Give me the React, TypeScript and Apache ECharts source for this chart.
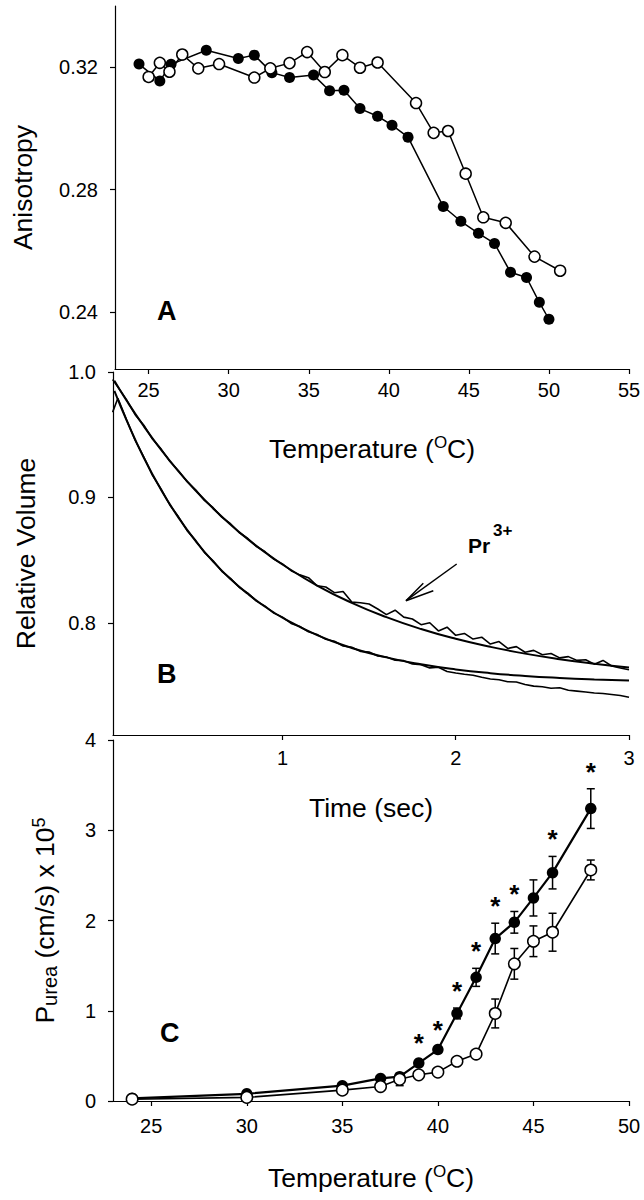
import React, { useEffect, useRef } from "react";
import * as echarts from "echarts";

const FONT = "'Liberation Sans', Arial, Helvetica, sans-serif";

// ---------- Panel A: anisotropy vs temperature ----------
const aFilledTemp = [24.4, 25.7, 26.4, 28.6, 30.6, 31.6, 32.7, 33.8, 35.3, 36.3, 37.2, 38.2, 39.3, 40.2, 41.2, 43.4, 44.5, 45.6, 46.6, 47.6, 48.6, 49.4, 50.0];
const aFilledAniso = [0.3209, 0.3154, 0.3208, 0.3254, 0.3227, 0.3238, 0.3181, 0.3165, 0.3173, 0.3122, 0.3124, 0.3064, 0.3039, 0.301, 0.2971, 0.2745, 0.2697, 0.2658, 0.2625, 0.2531, 0.2514, 0.2433, 0.2378];
const aOpenTemp = [25.0, 25.7, 26.3, 27.1, 28.1, 29.4, 31.6, 32.6, 33.8, 34.9, 36.0, 37.1, 38.2, 39.3, 41.7, 42.8, 43.7, 44.8, 45.9, 47.3, 49.1, 50.7];
const aOpenAniso = [0.3167, 0.3213, 0.3184, 0.324, 0.3195, 0.3209, 0.3165, 0.3195, 0.3212, 0.3248, 0.3183, 0.3238, 0.3197, 0.3214, 0.3082, 0.2985, 0.2991, 0.2852, 0.271, 0.2692, 0.2582, 0.2536];
const aTempTicks = [25, 30, 35, 40, 45, 50, 55];
const aAnisoTicks = [0.24, 0.28, 0.32];

// ---------- Panel B: relative volume vs time ----------
const bFitTime = [0.03, 0.1, 0.2, 0.3, 0.4, 0.5, 0.6, 0.7, 0.8, 0.9, 1.0, 1.2, 1.4, 1.6, 1.8, 2.0, 2.2, 2.4, 2.6, 2.8, 3.0];
const bFitUpper = [0.993, 0.9773, 0.9567, 0.9379, 0.9208, 0.9053, 0.8912, 0.8784, 0.8667, 0.8561, 0.8465, 0.8297, 0.8159, 0.8045, 0.795, 0.7872, 0.7808, 0.7754, 0.771, 0.7674, 0.7644];
const bFitLower = [0.9849, 0.9616, 0.9316, 0.9059, 0.8839, 0.865, 0.8488, 0.8349, 0.8231, 0.8128, 0.8041, 0.7902, 0.7799, 0.7724, 0.7669, 0.7628, 0.7598, 0.7576, 0.756, 0.7548, 0.7539];
const bDataTime = [0.02, 0.05, 0.1, 0.15, 0.2, 0.25, 0.3, 0.35, 0.4, 0.45, 0.5, 0.55, 0.6, 0.65, 0.7, 0.75, 0.8, 0.85, 0.9, 0.95, 1.0, 1.05, 1.1, 1.15, 1.2, 1.25, 1.3, 1.35, 1.4, 1.45, 1.5, 1.55, 1.6, 1.65, 1.7, 1.75, 1.8, 1.85, 1.9, 1.95, 2.0, 2.05, 2.1, 2.15, 2.2, 2.25, 2.3, 2.35, 2.4, 2.45, 2.5, 2.55, 2.6, 2.65, 2.7, 2.75, 2.8, 2.85, 2.9, 2.95, 3.0];
const bDataUpper = [0.994, 0.988, 0.978, 0.966, 0.9575, 0.9465, 0.9385, 0.9288, 0.9212, 0.9125, 0.9058, 0.8976, 0.8918, 0.8842, 0.879, 0.872, 0.8672, 0.8608, 0.8566, 0.8508, 0.847, 0.8415, 0.8382, 0.836, 0.8295, 0.8285, 0.824, 0.825, 0.8165, 0.816, 0.815, 0.811, 0.8065, 0.81, 0.8045, 0.803, 0.7985, 0.8, 0.7935, 0.7965, 0.79, 0.7915, 0.787, 0.7885, 0.783, 0.785, 0.7795, 0.781, 0.7765, 0.778, 0.7745, 0.7755, 0.772, 0.773, 0.77, 0.7705, 0.767, 0.77, 0.7655, 0.764, 0.7625];
const bDataLower = [0.968, 0.979, 0.962, 0.9455, 0.9322, 0.9175, 0.9065, 0.894, 0.8845, 0.8735, 0.8655, 0.856, 0.8495, 0.841, 0.8355, 0.8283, 0.8237, 0.8173, 0.8133, 0.8077, 0.8045, 0.7995, 0.797, 0.7928, 0.7907, 0.7868, 0.7853, 0.7815, 0.7805, 0.7772, 0.7767, 0.7735, 0.7727, 0.7702, 0.7698, 0.7672, 0.7665, 0.764, 0.7645, 0.7612, 0.76, 0.759, 0.7582, 0.7565, 0.7552, 0.7545, 0.753, 0.7528, 0.7508, 0.7495, 0.749, 0.7478, 0.7482, 0.7462, 0.7455, 0.7448, 0.744, 0.7436, 0.7428, 0.742, 0.7406];
const bTimeTicks = [1, 2, 3];
const bVolumeTicks = [0.8, 0.9, 1.0];

// ---------- Panel C: urea permeability vs temperature ----------
const cTemp = [24, 30, 35, 37, 38, 39, 40, 41, 42, 43, 44, 45, 46, 48];
const cFilled = [0.03, 0.08, 0.17, 0.25, 0.27, 0.42, 0.57, 0.97, 1.37, 1.8, 1.98, 2.25, 2.53, 3.24];
const cFilledErr = [0.01, 0.02, 0.02, 0.03, 0.03, 0.03, 0.03, 0.06, 0.1, 0.17, 0.12, 0.2, 0.18, 0.22];
const cOpen = [0.02, 0.04, 0.12, 0.16, 0.24, 0.29, 0.32, 0.44, 0.52, 0.97, 1.52, 1.77, 1.87, 2.56];
const cOpenErr = [0.01, 0.01, 0.02, 0.02, 0.07, 0.03, 0.03, 0.03, 0.04, 0.16, 0.17, 0.17, 0.21, 0.11];
const cSignificant = [0, 0, 0, 0, 0, 1, 1, 1, 1, 1, 1, 0, 1, 1];
const cTempTicks = [25, 30, 35, 40, 45, 50];

const zip = (xs: number[], ys: number[]) => xs.map((x, i) => [x, ys[i]]);

const BLACK = "#000";
const tickLabel = { fontSize: 20, color: BLACK, fontFamily: FONT };
const axisLine = { show: true, onZero: false, lineStyle: { color: BLACK, width: 1.2 } };
const tickStyle = { color: BLACK, width: 1.2 };

const tempName = "{t|Temperature (}{o|O}{t|C)}";
const tempNameStyle = {
  fontFamily: FONT,
  color: BLACK,
  rich: {
    t: { fontSize: 26.5, lineHeight: 30, fontFamily: FONT, color: BLACK },
    o: { fontSize: 17, lineHeight: 14, verticalAlign: "top", fontFamily: FONT, color: BLACK },
  },
};
const plainName = { fontSize: 26.5, lineHeight: 30, fontFamily: FONT, color: BLACK };

export default function App() {
  const ref = useRef<HTMLDivElement>(null);

  useEffect(() => {
    if (!ref.current) return;
    const chart = echarts.init(ref.current, null, { renderer: "svg" });

    const errorSeries = (vals: number[], errs: number[], sig: number[] | null, z: number) => ({
      type: "custom",
      xAxisIndex: 2,
      yAxisIndex: 2,
      z,
      silent: true,
      data: cTemp.map((t, i) => [t, vals[i], errs[i], sig ? sig[i] : 0]),
      encode: { x: 0, y: 1 },
      renderItem: (params: any, api: any) => {
        const x = api.value(0);
        const v = api.value(1);
        const e = api.value(2);
        const s = api.value(3);
        const top = api.coord([x, v + e]);
        const bot = api.coord([x, v - e]);
        const hw = 4;
        const style = { stroke: BLACK, lineWidth: 1.5 };
        const children: any[] = [
          { type: "line", shape: { x1: top[0], y1: top[1], x2: bot[0], y2: bot[1] }, style },
          { type: "line", shape: { x1: top[0] - hw, y1: top[1], x2: top[0] + hw, y2: top[1] }, style },
          { type: "line", shape: { x1: bot[0] - hw, y1: bot[1], x2: bot[0] + hw, y2: bot[1] }, style },
        ];
        if (s) {
          children.push({
            type: "text",
            x: top[0],
            y: top[1] - 4,
            style: { text: "*", fontSize: 26, fontWeight: "bold", fontFamily: FONT, fill: BLACK, align: "center", verticalAlign: "bottom" },
          });
        }
        return { type: "group", children };
      },
    });

    const option: any = {
      animation: false,
      backgroundColor: "#fff",
      grid: [
        { left: 113, right: 15, top: 6, height: 363 },
        { left: 113, right: 15, top: 372, height: 363 },
        { left: 113, right: 15, top: 740, height: 361 },
      ],
      xAxis: [
        {
          gridIndex: 0, type: "value", min: 22.9, max: 55,
          axisLine, splitLine: { show: false },
          axisTick: { show: true, length: 5, customValues: aTempTicks, lineStyle: tickStyle },
          axisLabel: { ...tickLabel, customValues: aTempTicks, margin: 11 },
          name: tempName, nameLocation: "middle", nameGap: 65, nameTextStyle: tempNameStyle,
        },
        {
          gridIndex: 1, type: "value", min: 0.022, max: 3,
          axisLine, splitLine: { show: false },
          axisTick: { show: true, length: 5, customValues: bTimeTicks, lineStyle: tickStyle },
          axisLabel: { ...tickLabel, customValues: bTimeTicks, margin: 13 },
          name: "Time (sec)", nameLocation: "middle", nameGap: 58, nameTextStyle: plainName,
        },
        {
          gridIndex: 2, type: "value", min: 23, max: 50,
          axisLine, splitLine: { show: false },
          axisTick: { show: true, length: 5, customValues: cTempTicks, lineStyle: tickStyle },
          axisLabel: { ...tickLabel, customValues: cTempTicks, margin: 15 },
          name: tempName, nameLocation: "middle", nameGap: 62, nameTextStyle: tempNameStyle,
        },
      ],
      yAxis: [
        {
          gridIndex: 0, type: "value", min: 0.2216, max: 0.3398,
          axisLine, splitLine: { show: false },
          axisTick: { show: true, length: 5, customValues: aAnisoTicks, lineStyle: tickStyle },
          axisLabel: { ...tickLabel, customValues: aAnisoTicks, margin: 17, formatter: (v: number) => v.toFixed(2) },
          name: "Anisotropy", nameLocation: "middle", nameRotate: 90, nameGap: 77, nameTextStyle: plainName,
        },
        {
          gridIndex: 1, type: "value", min: 0.7105, max: 1.0,
          axisLine, splitLine: { show: false },
          axisTick: { show: true, length: 5, customValues: bVolumeTicks, lineStyle: tickStyle },
          axisLabel: { ...tickLabel, customValues: bVolumeTicks, margin: 17, formatter: (v: number) => v.toFixed(1) },
          name: "Relative Volume", nameLocation: "middle", nameRotate: 90, nameGap: 72, nameTextStyle: plainName,
        },
        {
          gridIndex: 2, type: "value", min: 0, max: 4, interval: 1,
          axisLine, splitLine: { show: false },
          axisTick: { show: true, length: 5, lineStyle: tickStyle },
          axisLabel: { ...tickLabel, margin: 17 },
          name: "{p|P}{s|urea}{p| (cm/s) x 10}{u|5}", nameLocation: "middle", nameRotate: 90, nameGap: 53,
          nameTextStyle: {
            fontFamily: FONT, color: BLACK,
            rich: {
              p: { fontSize: 26.5, lineHeight: 30, fontFamily: FONT, color: BLACK },
              s: { fontSize: 20, lineHeight: 16, verticalAlign: "bottom", fontFamily: FONT, color: BLACK },
              u: { fontSize: 18, lineHeight: 14, verticalAlign: "top", fontFamily: FONT, color: BLACK },
            },
          },
        },
      ],
      series: [
        // Panel A
        {
          type: "line", xAxisIndex: 0, yAxisIndex: 0, data: zip(aFilledTemp, aFilledAniso),
          symbol: "circle", symbolSize: 11, itemStyle: { color: BLACK },
          lineStyle: { color: BLACK, width: 1.5 }, z: 3,
        },
        {
          type: "line", xAxisIndex: 0, yAxisIndex: 0, data: zip(aOpenTemp, aOpenAniso),
          symbol: "circle", symbolSize: 11, itemStyle: { color: "#fff", borderColor: BLACK, borderWidth: 1.5 },
          lineStyle: { color: BLACK, width: 1.5 }, z: 4,
        },
        // Panel B
        {
          type: "line", xAxisIndex: 1, yAxisIndex: 1, data: zip(bDataTime, bDataUpper),
          showSymbol: false, symbol: "none", lineStyle: { color: BLACK, width: 1.6 },
        },
        {
          type: "line", xAxisIndex: 1, yAxisIndex: 1, data: zip(bDataTime, bDataLower),
          showSymbol: false, symbol: "none", lineStyle: { color: BLACK, width: 1.6 },
        },
        {
          type: "line", xAxisIndex: 1, yAxisIndex: 1, data: zip(bFitTime, bFitUpper), smooth: true,
          showSymbol: false, symbol: "none", lineStyle: { color: BLACK, width: 2 },
        },
        {
          type: "line", xAxisIndex: 1, yAxisIndex: 1, data: zip(bFitTime, bFitLower), smooth: true,
          showSymbol: false, symbol: "none", lineStyle: { color: BLACK, width: 2 },
        },
        // Panel C
        errorSeries(cFilled, cFilledErr, cSignificant, 1),
        errorSeries(cOpen, cOpenErr, null, 1),
        {
          type: "line", xAxisIndex: 2, yAxisIndex: 2, data: zip(cTemp, cFilled),
          symbol: "circle", symbolSize: 11.5, itemStyle: { color: BLACK },
          lineStyle: { color: BLACK, width: 2.2 }, z: 3,
        },
        {
          type: "line", xAxisIndex: 2, yAxisIndex: 2, data: zip(cTemp, cOpen),
          symbol: "circle", symbolSize: 11.5, itemStyle: { color: "#fff", borderColor: BLACK, borderWidth: 1.5 },
          lineStyle: { color: BLACK, width: 1.6 }, z: 4,
        },
      ],
      graphic: [
        { type: "text", x: 157, y: 310.5, style: { text: "A", fontSize: 27, fontWeight: "bold", fontFamily: FONT, fill: BLACK, align: "left", verticalAlign: "middle" } },
        { type: "text", x: 157, y: 673.5, style: { text: "B", fontSize: 27, fontWeight: "bold", fontFamily: FONT, fill: BLACK, align: "left", verticalAlign: "middle" } },
        { type: "text", x: 160, y: 1032.5, style: { text: "C", fontSize: 27, fontWeight: "bold", fontFamily: FONT, fill: BLACK, align: "left", verticalAlign: "middle" } },
        { type: "text", x: 468, y: 545.6, style: { text: "Pr", fontSize: 21, fontWeight: "bold", fontFamily: FONT, fill: BLACK, align: "left", verticalAlign: "middle" } },
        { type: "text", x: 493, y: 530.5, style: { text: "3+", fontSize: 17, fontWeight: "bold", fontFamily: FONT, fill: BLACK, align: "left", verticalAlign: "middle" } },
        { type: "line", shape: { x1: 456.7, y1: 564, x2: 406, y2: 600.7 }, style: { stroke: BLACK, lineWidth: 1.5 } },
        { type: "polyline", shape: { points: [[423.3, 583.3], [406, 600.7], [433.3, 590.7]] }, style: { stroke: BLACK, lineWidth: 1.5, fill: null } },
      ],
    };

    chart.setOption(option);
    return () => chart.dispose();
  }, []);

  return (
    <div
      ref={ref}
      style={{ position: "absolute", left: 0, top: 0, width: 644, height: 1200, background: "#fff" }}
    />
  );
}
